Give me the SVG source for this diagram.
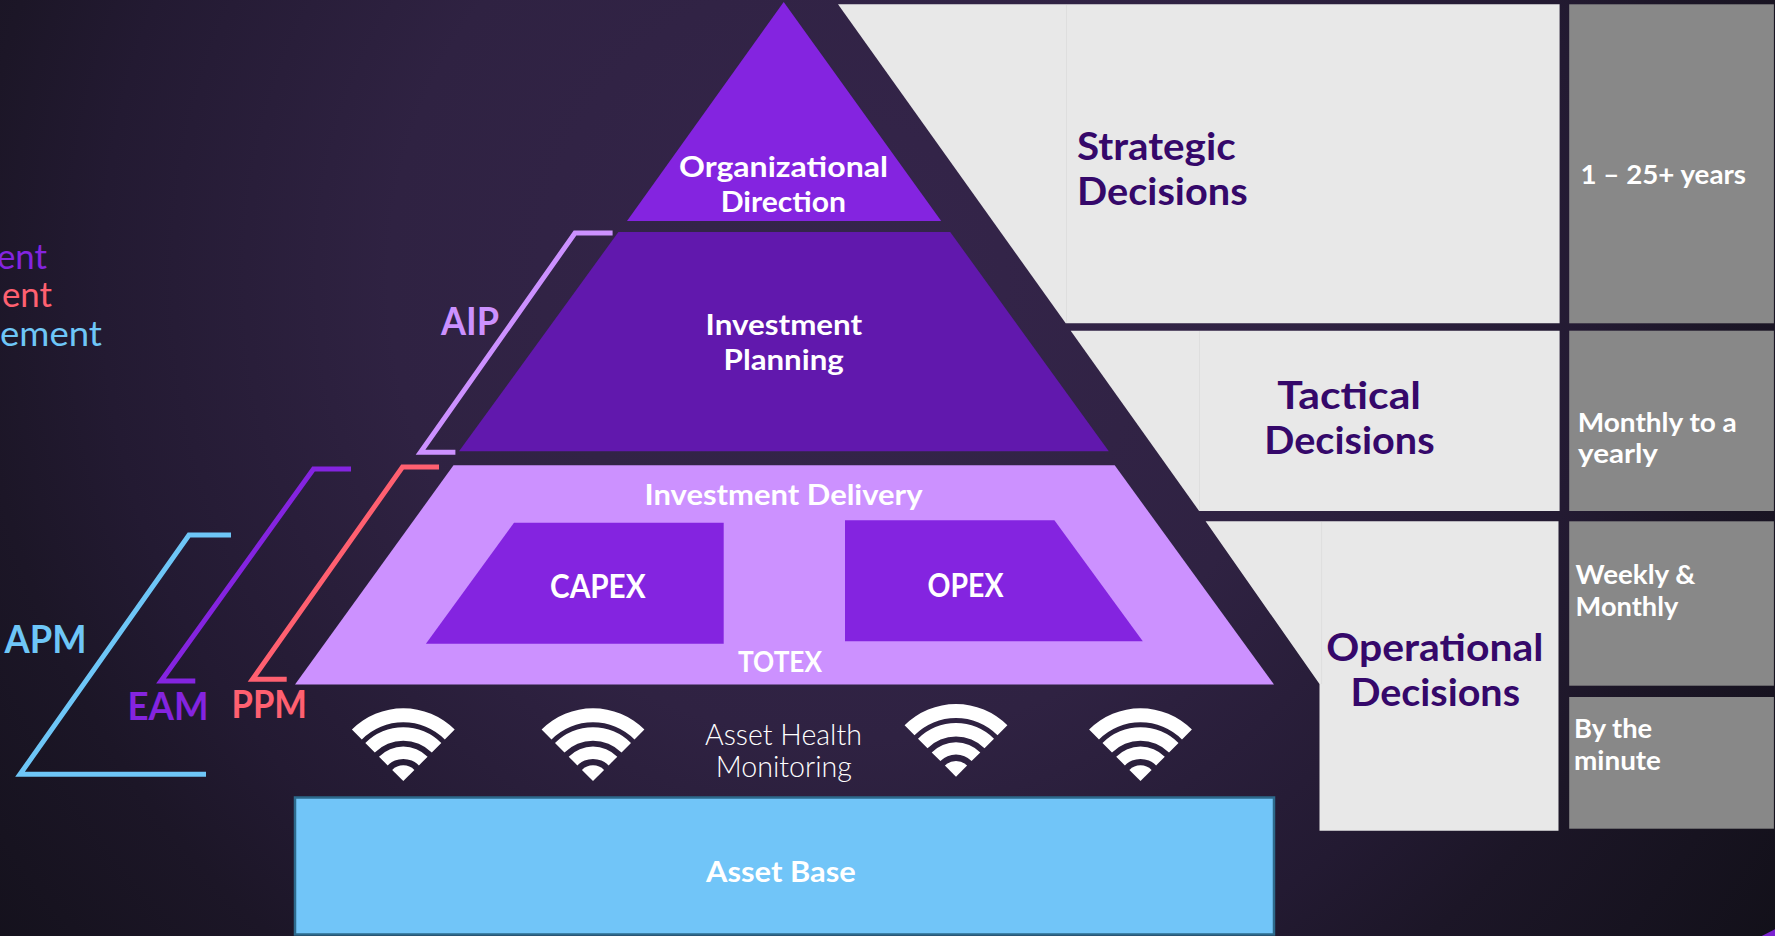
<svg xmlns="http://www.w3.org/2000/svg" width="1775" height="936" viewBox="0 0 1775 936">
<style>
text{font-family:"Lato","Open Sans","Liberation Sans",sans-serif;font-weight:700}
.w{fill:#fff}
.d{fill:#35086a;font-size:38px}
.l{font-weight:400;font-size:35px}
.b{fill:none;stroke-width:5;stroke-linejoin:miter}
.p{fill:#e8e8e8}
.g{fill:#888888}
.t29{font-size:29px}
.t27{font-size:27px}
.t30{font-size:33px}
.lab{font-size:38px}
</style>
<defs>
<radialGradient id="bg" gradientUnits="userSpaceOnUse" cx="850" cy="280" r="1150">
<stop offset="0" stop-color="#35254b"/><stop offset=".4" stop-color="#2f2242"/><stop offset=".65" stop-color="#231a32"/><stop offset=".76" stop-color="#1c1627"/><stop offset="1" stop-color="#121019"/>
</radialGradient>
<g id="wifi" fill="#fff">
<path d="M-51.4-51.4A72.7 72.7 0 0 1 51.4-51.4L41.5-41.5A58.7 58.7 0 0 0-41.5-41.5Z"/>
<path d="M-38-38A53.7 53.7 0 0 1 38-38L28.5-28.5A40.3 40.3 0 0 0-28.5-28.5Z"/>
<path d="M-24.3-24.3A34.3 34.3 0 0 1 24.3-24.3L15.6-15.6A22 22 0 0 0-15.6-15.6Z"/>
<path d="M0 0L-11.1-11.1A15.7 15.7 0 0 1 11.1-11.1Z"/>
</g>
</defs>
<rect id="background" width="1775" height="936" fill="url(#bg)"/>
<polygon id="corner" fill="#7a22d0" points="1761.7,936 1775,929.3 1775,936"/>

<g id="panel-strategic"><polygon class="p" points="838,4.3 1559.6,4.3 1559.6,323.3 1065.7,323.3"/><line x1="1066.5" y1="5" x2="1066.5" y2="323" stroke="#dedede"/>
<text class="d" x="1077" y="160.3" textLength="158.6" lengthAdjust="spacingAndGlyphs">Strategic</text><text class="d" x="1077" y="205.3" textLength="170.6" lengthAdjust="spacingAndGlyphs">Decisions</text></g>
<g id="panel-tactical"><polygon class="p" points="1070.7,330.7 1559.6,330.7 1559.6,511 1199.1,511"/><line x1="1199.5" y1="331" x2="1199.5" y2="511" stroke="#dedede"/>
<text class="d" x="1277.3" y="409.3" textLength="143.7" lengthAdjust="spacingAndGlyphs">Tactical</text><text class="d" x="1264.3" y="454.3" textLength="170.3" lengthAdjust="spacingAndGlyphs">Decisions</text></g>
<g id="panel-operational"><polygon class="p" points="1205.6,521.3 1558.5,521.3 1558.5,830.7 1319.5,830.7 1319.5,684"/><line x1="1321.6" y1="522" x2="1321.6" y2="684" stroke="#dedede"/>
<text class="d" x="1326.3" y="661.3" textLength="217.1" lengthAdjust="spacingAndGlyphs">Operational</text><text class="d" x="1350.4" y="706" textLength="169.6" lengthAdjust="spacingAndGlyphs">Decisions</text></g>

<g id="time-1"><rect class="g" x="1569.2" y="4.3" width="204.7" height="319"/><text class="w t27" x="1580.5" y="184" textLength="165.5" lengthAdjust="spacingAndGlyphs">1 – 25+ years</text></g>
<g id="time-2"><rect class="g" x="1569.2" y="330.7" width="204.7" height="180.3"/><text class="w t27" x="1577.7" y="432" textLength="159.1" lengthAdjust="spacingAndGlyphs">Monthly to a</text><text class="w t27" x="1578" y="463" textLength="80" lengthAdjust="spacingAndGlyphs">yearly</text></g>
<g id="time-3"><rect class="g" x="1569.2" y="521.3" width="204.7" height="164.4"/><text class="w t27" x="1575.6" y="584.3" textLength="119.9" lengthAdjust="spacingAndGlyphs">Weekly &amp;</text><text class="w t27" x="1575.6" y="616" textLength="102.7" lengthAdjust="spacingAndGlyphs">Monthly</text></g>
<g id="time-4"><rect class="g" x="1569.2" y="697" width="204.7" height="131.7"/><text class="w t27" x="1574" y="738" textLength="78.2" lengthAdjust="spacingAndGlyphs">By the</text><text class="w t27" x="1574" y="770" textLength="87" lengthAdjust="spacingAndGlyphs">minute</text></g>

<g id="organizational-direction"><polygon fill="#8424e0" points="783.7,2 941.2,221 627,221"/>
<text class="w t29" x="679" y="177" textLength="209" lengthAdjust="spacingAndGlyphs">Organizational</text><text class="w t29" x="720.7" y="212" textLength="125.3" lengthAdjust="spacingAndGlyphs">Direction</text></g>
<g id="investment-planning"><polygon fill="#6118ad" points="618.4,232 950.2,232 1108.8,451.3 459,451.3"/>
<text class="w t29" x="705.6" y="335.3" textLength="156.6" lengthAdjust="spacingAndGlyphs">Investment</text><text class="w t29" x="723.6" y="370.3" textLength="120.2" lengthAdjust="spacingAndGlyphs">Planning</text></g>
<g id="investment-delivery"><polygon fill="#cc91ff" points="453.5,465.3 1114.7,465.3 1274,684.5 295,684.5"/>
<text class="w t29" x="644.5" y="505" textLength="278" lengthAdjust="spacingAndGlyphs">Investment Delivery</text><text class="w t29" x="738" y="672" textLength="84" lengthAdjust="spacingAndGlyphs">TOTEX</text></g>
<g id="capex"><polygon fill="#8424e0" points="514,522.7 723.7,522.7 723.7,643.7 425.9,643.7"/><text class="w t30" x="550" y="598" textLength="95.6" lengthAdjust="spacingAndGlyphs">CAPEX</text></g>
<g id="opex"><polygon fill="#8424e0" points="845,520.3 1054.4,520.3 1142.8,641.3 845,641.3"/><text class="w t30" x="927.5" y="597" textLength="76" lengthAdjust="spacingAndGlyphs">OPEX</text></g>

<g id="asset-health"><use href="#wifi" x="403.3" y="781"/><use href="#wifi" x="593" y="781"/><use href="#wifi" x="956" y="776.7"/><use href="#wifi" x="1140.5" y="781"/>
<text class="w t29" style="font-weight:300" x="705" y="744.5" textLength="156.9" lengthAdjust="spacingAndGlyphs">Asset Health</text><text class="w t29" style="font-weight:300" x="715.7" y="776.5" textLength="136.2" lengthAdjust="spacingAndGlyphs">Monitoring</text></g>
<g id="asset-base"><rect x="295" y="797.5" width="979" height="137" fill="#71c5f8" stroke="#2d6a8c" stroke-width="2.5"/><text class="w t29" x="706" y="881.7" textLength="149.7" lengthAdjust="spacingAndGlyphs">Asset Base</text></g>

<g id="connectors">
<polyline class="b" stroke="#cc91ff" points="612.6,233 575,233 420.5,452.3 455.4,452.3"/>
<polyline class="b" stroke="#8424e0" points="351,469 313.5,469 161,681 195.3,681"/>
<polyline class="b" stroke="#ff6070" points="439,467 402.5,467 252.5,679.3 286.7,679.3"/>
<polyline class="b" stroke="#6ec6f7" points="231,535 189,535 20,774.3 206,774.3"/>
</g>

<g id="labels">
<text class="lab" fill="#cc91ff" x="441" y="334.5" textLength="58" lengthAdjust="spacingAndGlyphs">AIP</text>
<text class="lab" fill="#6ec6f7" x="4.5" y="652.8" textLength="82" lengthAdjust="spacingAndGlyphs">APM</text>
<text class="lab" fill="#8424e0" x="127.5" y="719.8" textLength="81" lengthAdjust="spacingAndGlyphs">EAM</text>
<text class="lab" fill="#ff6070" x="231.5" y="717.8" textLength="75.5" lengthAdjust="spacingAndGlyphs">PPM</text>
<text class="l" fill="#8424e0" x="-3" y="268.5" textLength="50" lengthAdjust="spacingAndGlyphs">ent</text>
<text class="l" fill="#ff6070" x="2" y="307" textLength="50" lengthAdjust="spacingAndGlyphs">ent</text>
<text class="l" fill="#6ec6f7" x="0" y="345.7" textLength="102" lengthAdjust="spacingAndGlyphs">ement</text>
</g>
</svg>
